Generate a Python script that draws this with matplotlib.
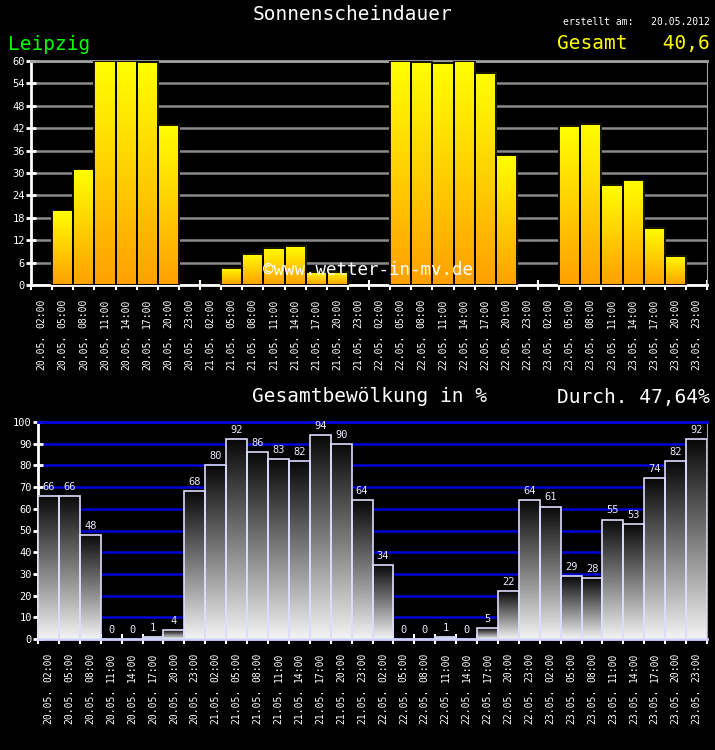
import numpy as np
import matplotlib.pyplot as plt
from matplotlib.colors import LinearSegmentedColormap
from matplotlib.transforms import blended_transform_factory

# ---- Daten ----------------------------------------------------------------
zeiten = ["02:00", "05:00", "08:00", "11:00", "14:00", "17:00", "20:00", "23:00"] * 4
daten = ["20.05."] * 8 + ["21.05."] * 8 + ["22.05."] * 8 + ["23.05."] * 8

# Sonnenscheindauer (Minuten je Intervall)
sonne = [0, 20, 31, 60, 60, 59.6, 42.9, 0,
         0, 4.6, 8.4, 10, 10.5, 3.6, 3.6, 0,
         0, 60, 59.8, 59.5, 59.9, 56.8, 34.8, 0,
         0, 42.6, 43.2, 26.8, 28.1, 15.3, 7.8, 0]

# Gesamtbewölkung in %
wolken = [66, 66, 48, 0, 0, 1, 4, 68,
          80, 92, 86, 83, 82, 94, 90, 64,
          34, 0, 0, 1, 0, 5, 22, 64,
          61, 29, 28, 55, 53, 74, 82, 92]

MONO = "DejaVu Sans Mono"
W, H = 715, 750
n = len(zeiten)
x = np.arange(n)

fig = plt.figure(figsize=(W / 100, H / 100), dpi=100, facecolor="black")
ax1 = fig.add_axes([31 / W, 1 - 285 / H, (707 - 31) / W, (285 - 61) / H])
ax2 = fig.add_axes([38 / W, 1 - 639 / H, (707 - 38) / W, (639 - 422) / H])

grad = np.linspace(0, 1, 256).reshape(-1, 1)
cm_sonne = LinearSegmentedColormap.from_list("sonne", ["#ffa000", "#ffff00"])
cm_wolke = LinearSegmentedColormap.from_list("wolke", ["#f4f4f4", "#7c7c7c", "#080808"])


def balken(ax, werte, cmap, kante, lw):
    bars = ax.bar(x, werte, width=1.0, facecolor="none", edgecolor=kante,
                  linewidth=lw, zorder=4)
    for b in bars:
        h = b.get_height()
        if h <= 0:
            b.set_edgecolor("none")
            continue
        x0 = b.get_x()
        ax.imshow(grad, extent=[x0, x0 + b.get_width(), 0, h], origin="lower",
                  cmap=cmap, aspect="auto", zorder=3, interpolation="bilinear")
    return bars


def achsen(ax, ymax, ystep, gridfarbe, unten, oben):
    ax.set_facecolor("black")
    ax.set_xlim(-0.5, n - 0.5)
    ax.set_ylim(0, ymax)
    ax.set_axisbelow(True)
    ax.set_yticks(np.arange(0, ymax + 1, ystep))
    ax.yaxis.grid(True, color=gridfarbe, linewidth=1.8)
    ax.tick_params(axis="y", colors="white", direction="inout", length=7,
                   width=2, labelsize=7.5, pad=1)
    for t in ax.get_yticklabels():
        t.set_fontfamily(MONO)
    ax.set_xticks(x, zeiten, rotation=90)
    ax.set_xticks(np.arange(-0.5, n, 1.0), minor=True)
    ax.tick_params(axis="x", which="major", length=0, colors="white",
                   labelsize=7, pad=10)
    ax.tick_params(axis="x", which="minor", direction="inout", length=7,
                   width=1.5, colors="white")
    for t in ax.get_xticklabels():
        t.set_fontfamily(MONO)
        t.set_verticalalignment("top")
    ax.spines["left"].set_color("white")
    ax.spines["left"].set_linewidth(2)
    ax.spines["bottom"].set_color(unten)
    ax.spines["bottom"].set_linewidth(2)
    ax.spines["right"].set_color("#a0a0a0")
    ax.spines["top"].set_color(oben)
    ax.spines["top"].set_linewidth(2)
    trans = blended_transform_factory(ax.transData, ax.transAxes)
    for i, d in enumerate(daten):
        ax.annotate(d, xy=(i, 0), xycoords=trans, xytext=(0, -36),
                    textcoords="offset points", rotation=90, ha="center",
                    va="top", color="white", fontsize=7, family=MONO)
    ax.set_xlim(-0.5, n - 0.5)
    ax.set_ylim(0, ymax)


# ---- oben: Sonnenscheindauer ------------------------------------------------
balken(ax1, sonne, cm_sonne, "black", 1.3)
achsen(ax1, 60, 6, "#8a8a8a", "white", "#a0a0a0")

# ---- unten: Gesamtbewölkung ------------------------------------------------
balken(ax2, wolken, cm_wolke, "#dcdcff", 1.2)
achsen(ax2, 100, 10, "#0000d8", "#d0d0ff", "#0000d8")
for i, v in enumerate(wolken):
    ax2.annotate(str(v), xy=(i, v), xytext=(0, 3), textcoords="offset points",
                 ha="center", va="bottom", color="#e8e8ff", fontsize=7.5,
                 family=MONO, zorder=6)

# ---- Texte ------------------------------------------------------------------
fig.text(352 / W, 1 - 15 / H, "Sonnenscheindauer", color="white", fontsize=14,
         family=MONO, ha="center", va="center")
fig.text(710 / W, 1 - 22 / H, "erstellt am:   20.05.2012", color="white",
         fontsize=7, family=MONO, ha="right", va="center")
fig.text(8 / W, 1 - 44 / H, "Leipzig", color="#00ff00", fontsize=14,
         family=MONO, ha="left", va="center")
fig.text(710 / W, 1 - 44 / H, "Gesamt   40,6", color="#ffff00", fontsize=14,
         family=MONO, ha="right", va="center")
fig.text(368 / W, 1 - 270 / H, "©www.wetter-in-mv.de", color="white",
         fontsize=12.6, family=MONO, ha="center", va="center", zorder=10)
fig.text(252 / W, 1 - 397 / H, "Gesamtbewölkung in %", color="white",
         fontsize=14, family=MONO, ha="left", va="center")
fig.text(710 / W, 1 - 397 / H, "Durch. 47,64%", color="white", fontsize=14,
         family=MONO, ha="right", va="center")

fig.savefig("out.png", dpi=100, facecolor="black")
